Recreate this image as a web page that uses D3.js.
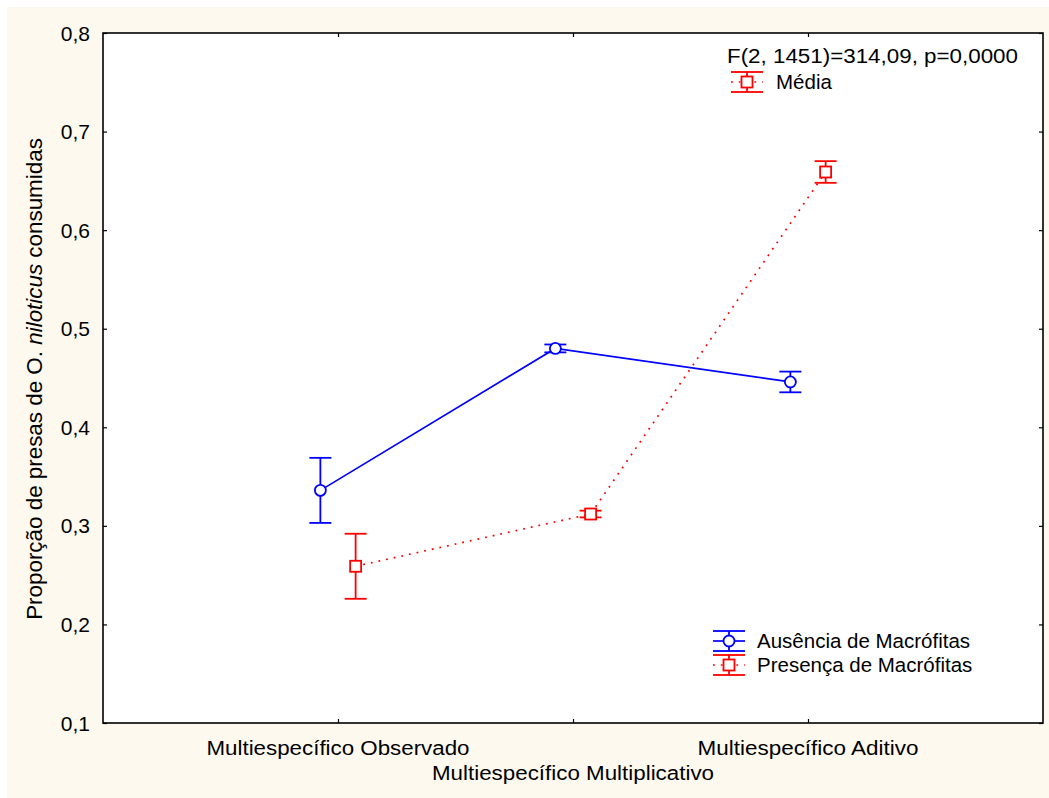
<!DOCTYPE html>
<html>
<head>
<meta charset="utf-8">
<script src="https://cdn.jsdelivr.net/npm/d3@7"></script>
<style>
  html, body { margin: 0; padding: 0; background: #ffffff; }
  svg { display: block; font-family: "Liberation Sans", Arial, sans-serif; }
</style>
</head>
<body>
<svg id="chart" width="1049" height="798"></svg>
<script>
const categories = ["Multiespecífico Observado", "Multiespecífico Multiplicativo", "Multiespecífico Aditivo"];
const yTicks = [0.1, 0.2, 0.3, 0.4, 0.5, 0.6, 0.7, 0.8];

const ausenciaMean = [0.336, 0.480, 0.446];
const ausenciaErr = [0.033, 0.004, 0.0105];
const presencaMean = [0.259, 0.312, 0.659];
const presencaErr = [0.033, 0.0034, 0.011];

const seriesNames = ["Ausência de Macrófitas", "Presença de Macrófitas"];
const statText = "F(2, 1451)=314,09, p=0,0000";

const width = 1049;
const height = 798;
const margin = { top: 33, right: 6, bottom: 75, left: 103 };

const svg = d3.select("#chart");

// cream page background
svg.append("rect")
  .attr("x", 7).attr("y", 7)
  .attr("width", width - 7).attr("height", height - 7)
  .attr("fill", "#fdf9ef");

const x = d3.scaleLinear().domain([0, 4]).range([margin.left, width - margin.right]);
const y = d3.scaleLinear().domain([0.1, 0.8]).range([height - margin.bottom, margin.top]);

const plotW = x.range()[1] - x.range()[0];
const plotH = y.range()[0] - y.range()[1];

svg.append("rect")
  .attr("x", margin.left).attr("y", margin.top)
  .attr("width", plotW).attr("height", plotH)
  .attr("fill", "#ffffff");

const fmt = (v) => d3.format(".1f")(v).replace(".", ",");

// y axis (ticks point inward)
const yAxis = svg.append("g")
  .attr("transform", `translate(${margin.left},0)`)
  .call(d3.axisRight(y).tickValues(yTicks).tickSize(4).tickFormat(""));
yAxis.select(".domain").remove();
yAxis.selectAll("line").attr("stroke", "#000").attr("stroke-width", 1.2);

svg.append("g")
  .selectAll("text")
  .data(yTicks)
  .enter()
  .append("text")
  .attr("x", margin.left - 13)
  .attr("y", (d) => y(d) + 7.5)
  .attr("text-anchor", "end")
  .attr("font-size", 21)
  .attr("fill", "#000")
  .text(fmt);

// right side ticks
const yAxisR = svg.append("g")
  .attr("transform", `translate(${x.range()[1]},0)`)
  .call(d3.axisLeft(y).tickValues(yTicks).tickSize(4).tickFormat(""));
yAxisR.select(".domain").remove();
yAxisR.selectAll("line").attr("stroke", "#000").attr("stroke-width", 1.2);

// x axis ticks (inward) bottom and top
const xTickVals = [1, 2, 3];
const xAxisB = svg.append("g")
  .attr("transform", `translate(0,${y.range()[0]})`)
  .call(d3.axisTop(x).tickValues(xTickVals).tickSize(4).tickFormat(""));
xAxisB.select(".domain").remove();
xAxisB.selectAll("line").attr("stroke", "#000").attr("stroke-width", 1.2);

const xAxisT = svg.append("g")
  .attr("transform", `translate(0,${y.range()[1]})`)
  .call(d3.axisBottom(x).tickValues(xTickVals).tickSize(4).tickFormat(""));
xAxisT.select(".domain").remove();
xAxisT.selectAll("line").attr("stroke", "#000").attr("stroke-width", 1.2);

// category labels, middle one staggered below
const labelWidths = [263, 282, 221];
svg.append("g")
  .selectAll("text")
  .data(categories)
  .enter()
  .append("text")
  .attr("x", (d, i) => x(i + 1))
  .attr("y", (d, i) => (i === 1 ? 780 : 755))
  .attr("text-anchor", "middle")
  .attr("font-size", 20)
  .attr("textLength", (d, i) => labelWidths[i])
  .attr("lengthAdjust", "spacingAndGlyphs")
  .attr("fill", "#000")
  .text((d) => d);

// y axis title
const yTitle = svg.append("text")
  .attr("transform", `translate(42,${(y.range()[0] + y.range()[1]) / 2 + 1}) rotate(-90)`)
  .attr("text-anchor", "middle")
  .attr("font-size", 22.4)
  .attr("fill", "#000");
yTitle.append("tspan").text("Proporção de presas de ");
yTitle.append("tspan").text("O. ");
yTitle.append("tspan").attr("font-style", "italic").text("niloticus");
yTitle.append("tspan").text(" consumidas");

// plot frame
svg.append("rect")
  .attr("x", margin.left).attr("y", margin.top)
  .attr("width", plotW).attr("height", plotH)
  .attr("fill", "none")
  .attr("stroke", "#000")
  .attr("stroke-width", 1.6);

const offset = 0.075;
const capHalf = 11;

const series = [
  { name: seriesNames[0], mean: ausenciaMean, err: ausenciaErr, color: "#0000ff", dx: -offset, dash: null, shape: "circle" },
  { name: seriesNames[1], mean: presencaMean, err: presencaErr, color: "#ff0000", dx: offset, dash: "1.8,6", shape: "square" }
];

const line = d3.line()
  .x((d) => x(d.i + 1 + d.dx))
  .y((d) => y(d.v));

function drawMarker(g, shape, cx, cy, color) {
  if (shape === "circle") {
    g.append("circle")
      .attr("cx", cx).attr("cy", cy).attr("r", 5.5)
      .attr("fill", "#fff").attr("stroke", color).attr("stroke-width", 1.8);
  } else {
    g.append("rect")
      .attr("x", cx - 5.5).attr("y", cy - 5.5)
      .attr("width", 11).attr("height", 11)
      .attr("fill", "#fff").attr("stroke", color).attr("stroke-width", 1.8);
  }
}

series.forEach((s) => {
  const pts = s.mean.map((v, i) => ({ i, v, e: s.err[i], dx: s.dx }));
  const g = svg.append("g");

  g.append("path")
    .datum(pts)
    .attr("d", line)
    .attr("fill", "none")
    .attr("stroke", s.color)
    .attr("stroke-width", 1.7)
    .attr("stroke-dasharray", s.dash);

  pts.forEach((p) => {
    const cx = x(p.i + 1 + p.dx);
    const yTop = y(p.v + p.e);
    const yBot = y(p.v - p.e);
    g.append("line")
      .attr("x1", cx).attr("x2", cx).attr("y1", yTop).attr("y2", yBot)
      .attr("stroke", s.color).attr("stroke-width", 1.8);
    [yTop, yBot].forEach((yy) => {
      g.append("line")
        .attr("x1", cx - capHalf).attr("x2", cx + capHalf).attr("y1", yy).attr("y2", yy)
        .attr("stroke", s.color).attr("stroke-width", 1.8);
    });
    drawMarker(g, s.shape, cx, y(p.v), s.color);
  });
});

// legend symbol helper
function legendSymbol(cx, cy, color, dash, shape) {
  const g = svg.append("g");
  g.append("line")
    .attr("x1", cx - 16).attr("x2", cx + 16).attr("y1", cy).attr("y2", cy)
    .attr("stroke", color).attr("stroke-width", 1.7).attr("stroke-dasharray", dash);
  g.append("line")
    .attr("x1", cx).attr("x2", cx).attr("y1", cy - 10).attr("y2", cy + 10)
    .attr("stroke", color).attr("stroke-width", 1.8);
  [cy - 10, cy + 10].forEach((yy) => {
    g.append("line")
      .attr("x1", cx - 16).attr("x2", cx + 16).attr("y1", yy).attr("y2", yy)
      .attr("stroke", color).attr("stroke-width", 1.8);
  });
  drawMarker(g, shape, cx, cy, color);
}

// top legend: statistic + Média
svg.append("text")
  .attr("x", 727).attr("y", 63)
  .attr("font-size", 20)
  .attr("textLength", 291)
  .attr("lengthAdjust", "spacingAndGlyphs")
  .attr("fill", "#000")
  .text(statText);

legendSymbol(747, 82, "#ff0000", "1.8,6", "square");
svg.append("text")
  .attr("x", 776).attr("y", 89)
  .attr("font-size", 20.5)
  .attr("fill", "#000")
  .text("Média");

// bottom-right series legend
const legendY = [641, 665];
series.forEach((s, i) => {
  legendSymbol(729, legendY[i], s.color, s.dash, s.shape);
  svg.append("text")
    .attr("x", 757).attr("y", legendY[i] + 7)
    .attr("font-size", 20.5)
    .attr("fill", "#000")
    .text(s.name);
});
</script>
</body>
</html>
